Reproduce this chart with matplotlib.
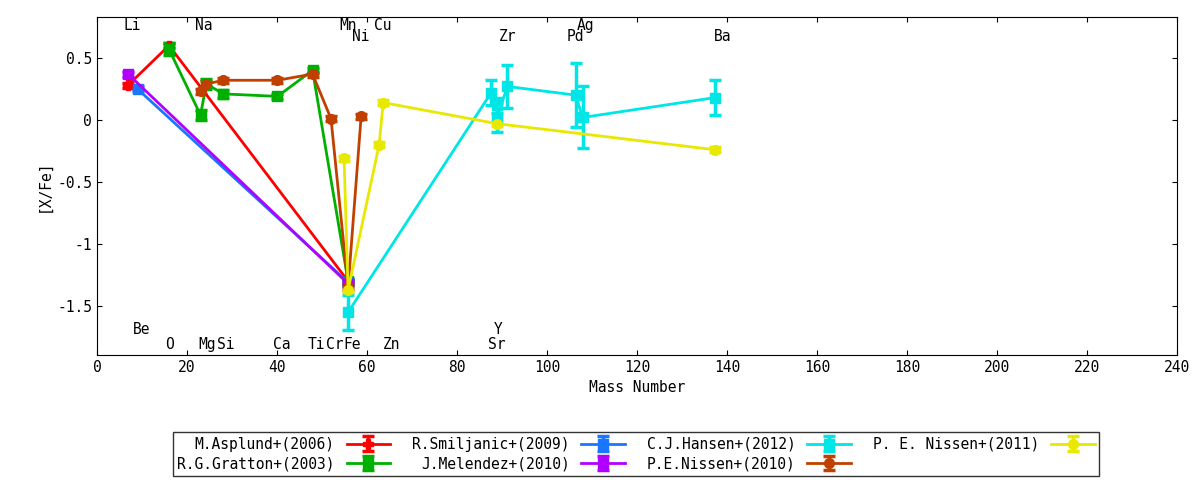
import matplotlib
matplotlib.use('Agg')
import matplotlib.pyplot as plt

plt.rcParams['font.family'] = ['DejaVu Sans Mono']
plt.rcParams['font.size'] = 10.5

# data: (mass number, [X/Fe], error)
asplund_x = [6.9, 16.0, 55.8]
asplund_y = [0.28, 0.60, -1.30]
asplund_e = [0.02, 0.02, 0.02]

gratton_x = [16.0, 23.0, 24.3, 28.1, 40.1, 47.9, 55.8]
gratton_y = [0.57, 0.04, 0.29, 0.21, 0.19, 0.40, -1.30]
gratton_e = [0.05, 0.04, 0.04, 0.03, 0.02, 0.02, 0.02]

smiljanic_x = [9.0, 55.8]
smiljanic_y = [0.25, -1.31]
smiljanic_e = [0.02, 0.02]

melendez_x = [6.9, 55.8]
melendez_y = [0.37, -1.32]
melendez_e = [0.02, 0.02]

hansen_x = [55.8, 87.6, 88.9, 88.9, 91.2, 106.4, 107.9, 137.3]
hansen_y = [-1.55, 0.22, 0.12, 0.02, 0.27, 0.20, 0.02, 0.18]
hansen_e = [0.14, 0.10, 0.06, 0.12, 0.17, 0.26, 0.25, 0.14]

nissen10_x = [23.0, 24.3, 28.1, 40.1, 47.9, 52.0, 55.8, 58.7]
nissen10_y = [0.23, 0.29, 0.32, 0.32, 0.37, 0.01, -1.35, 0.03]
nissen10_e = [0.02] * 8

nissen11_x = [54.9, 55.8, 62.7, 63.6, 88.9, 137.3]
nissen11_y = [-0.31, -1.37, -0.20, 0.14, -0.03, -0.24]
nissen11_e = [0.02] * 6

# element labels (name, x, y)
elem_names = ['Li', 'Na', 'Mn', 'Cu', 'Ag', 'Ni', 'Zr', 'Pd', 'Ba',
              'Be', 'Y', 'O', 'Mg', 'Si', 'Ca', 'Ti', 'Cr', 'Fe', 'Zn', 'Sr']
elem_x = [7.9, 23.8, 55.8, 63.5, 108.6, 58.7, 91.2, 106.4, 139.0,
          9.9, 89.2, 16.0, 24.5, 28.5, 41.0, 48.7, 52.8, 56.6, 65.4, 88.9]
elem_y = [0.76, 0.76, 0.76, 0.76, 0.76, 0.675, 0.675, 0.675, 0.675,
          -1.69, -1.69, -1.81, -1.81, -1.81, -1.81, -1.81, -1.81, -1.81, -1.81, -1.81]

fig = plt.figure(figsize=(12, 4.8), dpi=100)
ax = fig.add_axes([97/1200, 1 - 355/480, 1080/1200, 338/480])

series = [
    (asplund_x, asplund_y, asplund_e, '#ff0000', 'P', 'M.Asplund+(2006)'),
    (gratton_x, gratton_y, gratton_e, '#00b000', 's', 'R.G.Gratton+(2003)'),
    (smiljanic_x, smiljanic_y, smiljanic_e, '#1a75ff', 's', 'R.Smiljanic+(2009)'),
    (melendez_x, melendez_y, melendez_e, '#b000ff', 's', 'J.Melendez+(2010)'),
    (hansen_x, hansen_y, hansen_e, '#00e5e5', 's', 'C.J.Hansen+(2012)'),
    (nissen10_x, nissen10_y, nissen10_e, '#c04000', 'o', 'P.E.Nissen+(2010)'),
    (nissen11_x, nissen11_y, nissen11_e, '#e8e800', 'o', 'P. E. Nissen+(2011)'),
]
for x, y, e, c, m, lab in series:
    ax.errorbar(x, y, yerr=e, color=c, marker=m, markersize=7, lw=2,
                elinewidth=2.5, capsize=4, capthick=2.5, label=lab)

for n, x, y in zip(elem_names, elem_x, elem_y):
    ax.text(x, y, n, ha='center', va='center', fontsize=10.5)

ax.set_xlim(0, 240)
ax.set_ylim(-1.895, 0.83)
ax.set_xticks(range(0, 241, 20))
ax.set_yticks([-1.5, -1, -0.5, 0, 0.5])
ax.set_yticklabels(['-1.5', '-1', '-0.5', '0', '0.5'])
ax.tick_params(direction='in', top=True, right=True)
ax.set_xlabel('Mass Number')
ax.set_ylabel('[X/Fe]')

leg = fig.legend(loc='center', bbox_to_anchor=(636/1200, 1 - 454/480), ncol=4,
                 markerfirst=False, fancybox=False, edgecolor='black',
                 handlelength=3, columnspacing=1.5, borderpad=0.3,
                 labelspacing=0.3, fontsize=10.5)
leg.get_frame().set_linewidth(1)

fig.savefig('out.png')
